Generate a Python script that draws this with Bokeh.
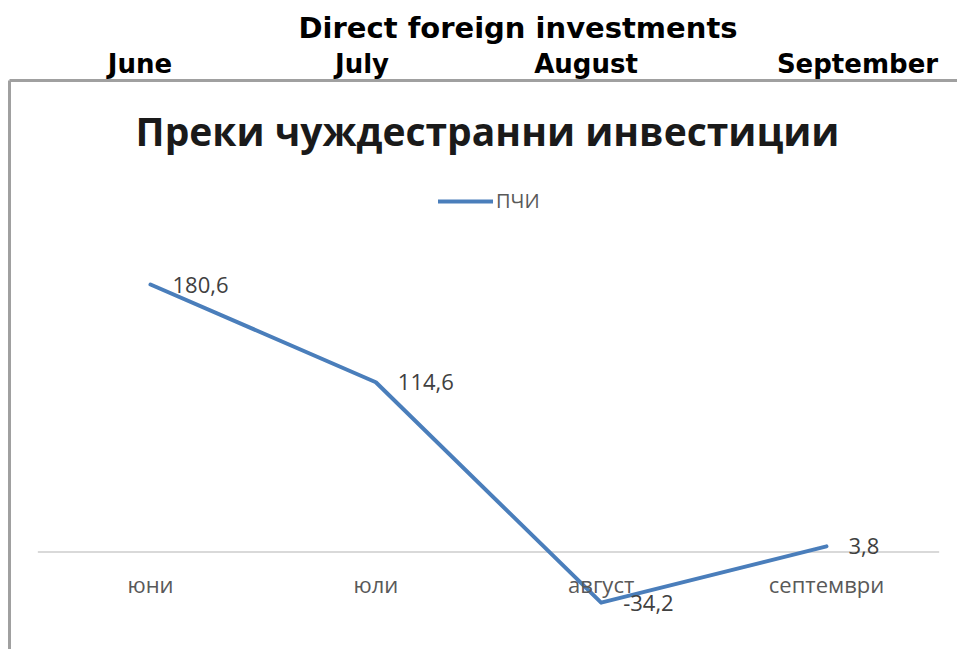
from bokeh.plotting import figure
from bokeh.models import (Range1d, LinearAxis, FixedTicker, Label, Legend,
                          LegendItem, ColumnDataSource)
from bokeh.core.properties import value
from bokeh.embed import file_html
from bokeh.resources import INLINE

# ---------------- data ----------------
title_en = "Direct foreign investments"
months_en = ["June", "July", "August", "September"]
chart_title = "Преки чуждестранни инвестиции"
series_name = "ПЧИ"
categories = ["юни", "юли", "август", "септември"]
values = [180.6, 114.6, -34.2, 3.8]

# ---------------- layout (canvas pixels) ----------------
W, H = 957, 649
FRAME_L, FRAME_R, FRAME_T, FRAME_B = 9, 957, 80, 649
CAT0_X, CAT_STEP = 150.0, 225.33
ZERO_Y, PX_PER_UNIT = 551.5, 1.481
MONTH_X = [139.5, 361.5, 585.5, 857.0]

x_start = (FRAME_L - CAT0_X) / CAT_STEP
x_end = (FRAME_R - CAT0_X) / CAT_STEP
y_end = (ZERO_Y - FRAME_T) / PX_PER_UNIT
y_start = (ZERO_Y - FRAME_B) / PX_PER_UNIT

p = figure(width=W, height=H,
           x_range=Range1d(x_start, x_end), y_range=Range1d(y_start, y_end),
           x_axis_location=None, y_axis_location=None,
           toolbar_location=None, output_backend="svg",
           min_border_left=FRAME_L, min_border_right=W - FRAME_R,
           min_border_top=FRAME_T, min_border_bottom=H - FRAME_B,
           outline_line_color=None, background_fill_color="white",
           border_fill_color="white")
p.grid.visible = False

# page title
p.title.text = title_en
p.title.text_font = "DejaVu Sans"
p.title.text_font_size = "29px"
p.title.text_font_style = "bold"
p.title.text_color = "#000000"
p.title.align = "left"
p.title.offset = 298 - FRAME_L
p.title.standoff = 2

# month row + top border (above axis on a canvas-pixel range)
p.extra_x_ranges = {"months": Range1d(FRAME_L, FRAME_R)}
top_axis = LinearAxis(x_range_name="months", ticker=FixedTicker(ticks=MONTH_X),
                      major_label_overrides={float(x): m for x, m in zip(MONTH_X, months_en)},
                      axis_line_color="#a0a0a0", axis_line_width=3,
                      major_tick_line_color=None, minor_tick_line_color=None,
                      major_tick_out=0, major_tick_in=0, major_label_standoff=2,
                      major_label_text_font="DejaVu Sans",
                      major_label_text_font_size="26px",
                      major_label_text_font_style="bold",
                      major_label_text_color="#000000")
p.add_layout(top_axis, "above")

# left border
left_axis = LinearAxis(ticker=FixedTicker(ticks=[]), axis_line_color="#a0a0a0",
                       axis_line_width=3, major_tick_line_color=None,
                       minor_tick_line_color=None, major_tick_out=0,
                       major_label_text_font_size="0px")
p.add_layout(left_axis, "left")

n = len(categories)
idx = list(range(n))
src = ColumnDataSource(dict(x=idx, y=values, cat=categories,
                            lab=[f"{v:.1f}".replace(".", ",") for v in values],
                            zero=[0] * n))

# category axis line
p.segment(x0=[-0.5], x1=[n - 0.5], y0=[0], y1=[0], line_color="#d9d9d9", line_width=2)

# series line
r = p.line("x", "y", source=src, line_color="#4a7ebb", line_width=4,
           line_join="round", line_cap="round")

# data labels
p.text("x", "y", text="lab", source=src, x_offset=22, y_offset=0,
       text_font=value("Open Sans"), text_font_size="22px", text_color="#404040",
       text_align="left", text_baseline="alphabetic")

# category labels
p.text("x", "zero", text="cat", source=src, y_offset=32,
       text_font=value("Open Sans"), text_font_size="22px", text_color="#595959",
       text_align="center", text_baseline="alphabetic")

# chart title inside the box
p.add_layout(Label(x=487 - FRAME_L, y=FRAME_B - 130, x_units="screen", y_units="screen",
                   text=chart_title, text_font="Open Sans", text_font_size="39px",
                   text_font_style="bold",
                   text_color="#1a1a1a", text_align="center", text_baseline="alphabetic"))

legend = Legend(items=[LegendItem(label=series_name, renderers=[r])],
                location=(438 - FRAME_L, FRAME_B - 214),
                glyph_width=55, glyph_height=22, label_height=22, label_standoff=3,
                padding=0, margin=0, spacing=0, border_line_color=None,
                background_fill_alpha=0, label_text_font="Open Sans",
                label_text_font_size="20px", label_text_color="#595959")
p.add_layout(legend)

open("out.html", "w").write(file_html(p, INLINE))
